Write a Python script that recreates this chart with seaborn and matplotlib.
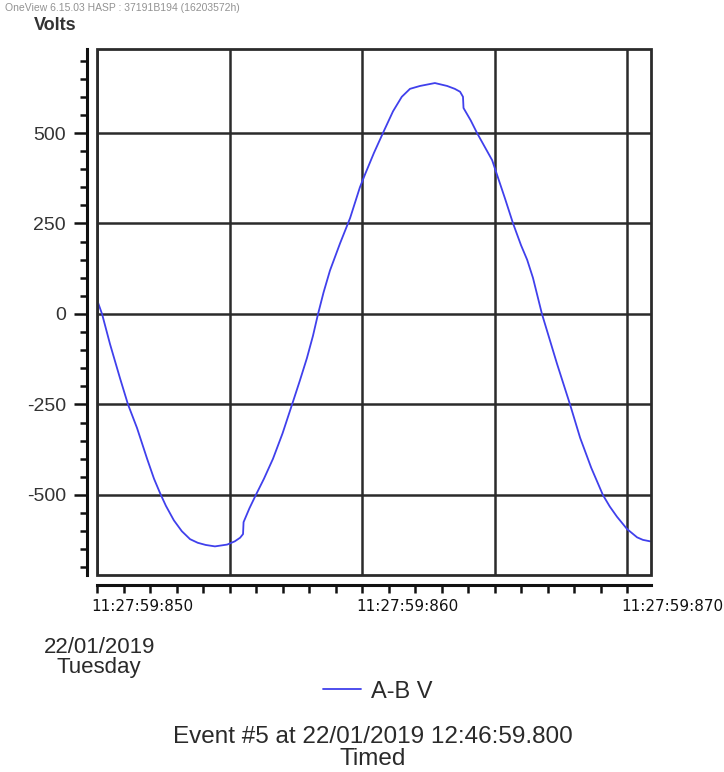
import matplotlib
matplotlib.use("Agg")
import matplotlib.pyplot as plt
import matplotlib.transforms as mtransforms
from matplotlib.patches import Rectangle
from matplotlib.ticker import MultipleLocator
import pandas as pd
import seaborn as sns

# time in ms after 11:27:59:850, voltage A-B in volts
time_ms = [0.04, 0.19, 0.49, 0.87, 1.17, 1.51, 1.89, 2.15, 2.38, 2.60, 2.90,
           3.20, 3.51, 3.80, 4.10, 4.45, 4.91, 5.20, 5.40, 5.51, 5.53, 5.75,
           5.96, 6.30, 6.64, 7.00, 7.36, 7.65, 7.92, 8.15, 8.34, 8.55, 8.79,
           9.17, 9.55, 9.92, 10.11, 10.45, 10.79, 11.17, 11.50, 11.81, 12.19,
           12.75, 13.21, 13.50, 13.70, 13.81, 13.83, 14.10, 14.34, 14.91,
           15.40, 15.70, 16.00, 16.23, 16.45, 16.79, 17.10, 17.36, 17.85,
           18.23, 18.65, 19.09, 19.35, 19.62, 20.00, 20.38, 20.60, 20.87]
volts = [31, 0, -83, -178, -250, -315, -400, -455, -495, -530, -570,
         -600, -622, -632, -638, -642, -637, -628, -618, -608, -575, -537,
         -505, -455, -400, -330, -250, -185, -122, -60, 0, 60, 120,
         195, 265, 350, 385, 445, 500, 560, 600, 622, 630,
         638, 630, 622, 614, 600, 569, 535, 500, 425,
         318, 250, 190, 150, 100, 0, -75, -138, -250,
         -342, -425, -500, -532, -560, -594, -617, -624, -628]

x_ticks = [0, 5, 10, 15, 20]
x_labels = ["11:27:59:850", "", "11:27:59:860", "", "11:27:59:870"]
y_ticks = [-500, -250, 0, 250, 500]
series_name = "A-B V"

df = pd.DataFrame({"t": time_ms, "v": volts})

sns.set_style("white")
plt.rcParams["font.family"] = ["Liberation Sans", "DejaVu Sans"]

fig = plt.figure(figsize=(7.24, 7.72), dpi=100)
ax = fig.add_axes([0.134, 0.2552, 0.765, 0.6813])

sns.lineplot(data=df, x="t", y="v", sort=False, estimator=None,
             color="#4040ec", linewidth=1.3, label=series_name, ax=ax)

ax.set_xlim(0, 20.9)
ax.set_ylim(-721, 732)
ax.set_xlabel("")
ax.set_ylabel("")

ax.set_xticks(x_ticks)
ax.set_xticklabels(x_labels)
ax.xaxis.set_minor_locator(MultipleLocator(1))
ax.set_yticks(y_ticks)
ax.set_yticklabels([str(v) for v in y_ticks])
ax.yaxis.set_minor_locator(MultipleLocator(50))

ax.tick_params(axis="x", which="both", direction="out", length=6, width=1.8,
               color="#111111", pad=4, bottom=True, labelsize=11, labelcolor="#111111")
ax.tick_params(axis="y", which="major", direction="out", length=9.5, width=1.8,
               color="#111111", pad=6, left=True, labelsize=14, labelcolor="#333333")
ax.tick_params(axis="y", which="minor", direction="out", length=5, width=1.8,
               color="#111111", left=True)

ax.grid(True, which="major", color="#2b2b2b", linewidth=1.8)
for side in ["top", "right"]:
    ax.spines[side].set_visible(False)
ax.spines["left"].set_position(("outward", 7))
ax.spines["bottom"].set_position(("outward", 7))
for side in ["left", "bottom"]:
    ax.spines[side].set_linewidth(2.2)
    ax.spines[side].set_color("#111111")
ax.add_patch(Rectangle((0, 0), 1, 1, transform=ax.transAxes, fill=False,
                       edgecolor="#2b2b2b", linewidth=2.0, clip_on=False, zorder=3))

ax.legend(loc="center", bbox_to_anchor=(0.522, 0.104), bbox_transform=fig.transFigure,
          frameon=False, fontsize=17, handlelength=1.6, handletextpad=0.45,
          labelcolor="#2a2a2a")

fig.text(0.007, 0.989, "OneView 6.15.03 HASP : 37191B194 (16203572h)", fontsize=7.5,
         color="#777777", ha="left", va="center", alpha=0.8)
fig.text(0.047, 0.967, "Volts", fontsize=13, color="#333333", ha="left", va="center",
         fontweight="bold")
fig.text(0.137, 0.148, "22/01/2019\nTuesday", fontsize=16, color="#2a2a2a",
         ha="center", va="center", linespacing=0.95)
fig.text(0.515, 0.031, "Event #5 at 22/01/2019 12:46:59.800\nTimed", fontsize=17.5,
         color="#2a2a2a", ha="center", va="center", linespacing=1.0)

# tick label fonts and the slight left shift of the time labels
fig.canvas.draw()
shift = mtransforms.ScaledTranslation(-6 / 100, 0, fig.dpi_scale_trans)
for lab in ax.get_xticklabels():
    lab.set_fontfamily("DejaVu Sans")
    lab.set_horizontalalignment("left")
    lab.set_transform(lab.get_transform() + shift)

fig.savefig("out.png", dpi=100, facecolor="white")
